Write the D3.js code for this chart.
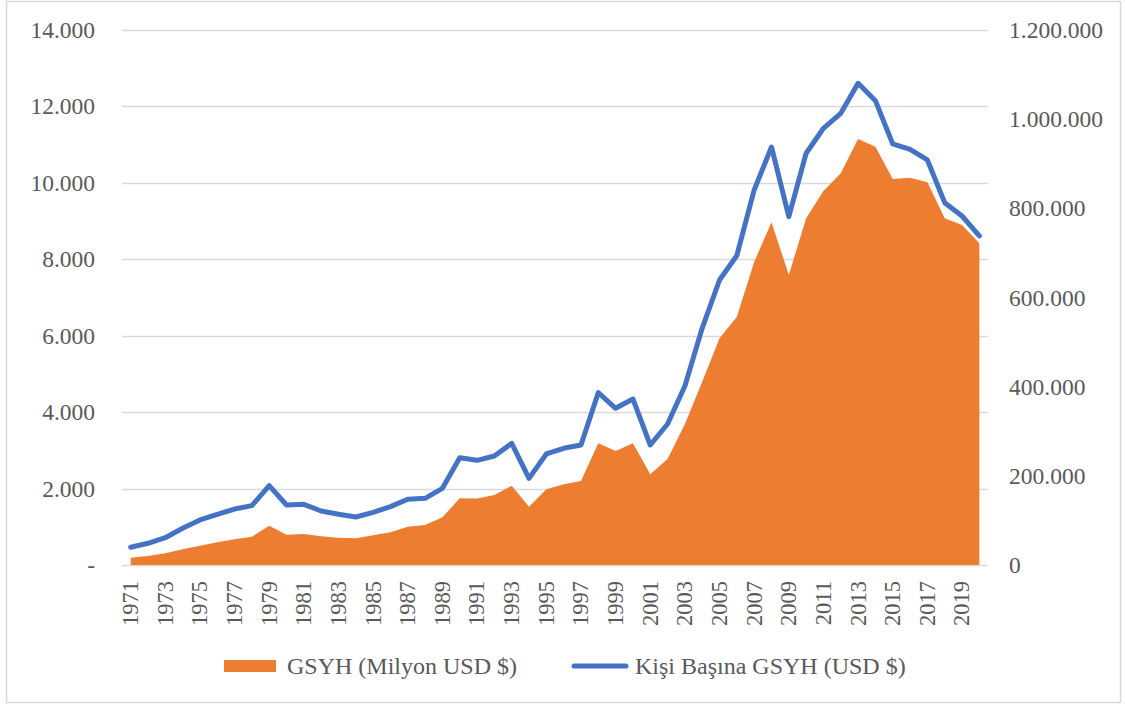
<!DOCTYPE html>
<html><head><meta charset="utf-8">
<script src="https://cdn.jsdelivr.net/npm/d3@7"></script>
<style>
html,body{margin:0;padding:0;background:#fff;}
svg{display:block;}
text{font-family:"Liberation Serif","Times New Roman",serif;fill:#595959;}
</style></head><body>
<svg id="chart" width="1125" height="706"></svg>
<script>
const years = d3.range(1971, 2021);
const yearLabels = years.filter((y,i)=>i%2===0);
// GSYH (Milyon USD $) - right axis
const gdp = [16400,20200,26200,35200,43300,50900,57600,63500,88200,68000,
  69500,64400,61200,59900,66600,73300,85900,89700,107000,149600,
  148900,157000,177900,130800,169800,181000,188400,273000,255700,273000,
  203400,237800,316300,411000,508500,557000,679700,768700,650500,777700,
  838900,878600,955500,938300,865800,868800,858400,777700,762600,721600];
// Kişi Başına GSYH (USD $) - left axis
const perCapita = [463,568,715,960,1178,1326,1465,1553,2076,1570,
  1588,1413,1326,1256,1378,1527,1719,1745,2006,2809,
  2739,2852,3184,2268,2905,3054,3140,4510,4100,4344,
  3140,3690,4684,6200,7458,8100,9814,10939,9115,10774,
  11428,11821,12606,12151,11018,10879,10599,9482,9133,8610];
const leftTicks = [0,2000,4000,6000,8000,10000,12000,14000];
const rightTicks = [0,200000,400000,600000,800000,1000000,1200000];
const seriesNames = ["GSYH (Milyon USD $)","Kişi Başına GSYH (USD $)"];
const colors = {gdp:"#ED7D31", pc:"#4472C4"};

const svg = d3.select("#chart");
const L=122, R=988, T=30, B=565;
const fmt = v => d3.format(",")(v).replace(/,/g,".");
const FS = "23.5px";

// outer border
svg.append("rect").attr("x",6.5).attr("y",1.5).attr("width",1114).attr("height",701)
  .attr("fill","none").attr("stroke","#D9D9D9").attr("stroke-width",1.5);

const x = d3.scaleBand().domain(years).range([L,R]);
const yL = d3.scaleLinear().domain([0,14000]).range([B,T]);
const yR = d3.scaleLinear().domain([0,1200000]).range([B,T]);

// gridlines
svg.append("g").selectAll("line").data(leftTicks).join("line")
  .attr("x1",L).attr("x2",R).attr("y1",d=>Math.round(yL(d))+0.5).attr("y2",d=>Math.round(yL(d))+0.5)
  .attr("stroke","#D9D9D9").attr("stroke-width",1.3);

// area
const cx = d => x(d)+x.bandwidth()/2;
const area = d3.area().x((d,i)=>cx(years[i])).y0(B).y1(d=>yR(d));
svg.append("path").datum(gdp).attr("d",area).attr("fill",colors.gdp);

// line
const line = d3.line().x((d,i)=>cx(years[i])).y(d=>yL(d));
svg.append("path").datum(perCapita).attr("d",line).attr("fill","none")
  .attr("stroke",colors.pc).attr("stroke-width",5).attr("stroke-linejoin","round").attr("stroke-linecap","round");

// left axis
const gl = svg.append("g").attr("transform",`translate(${L},0)`)
  .call(d3.axisLeft(yL).tickValues(leftTicks).tickFormat(d=>d===0?"-":fmt(d)).tickSize(0).tickPadding(27));
gl.select(".domain").remove();
gl.selectAll("text").style("font-size",FS).style("fill","#595959").style("font-family","Liberation Serif");

// right axis
const gr = svg.append("g").attr("transform",`translate(${R},0)`)
  .call(d3.axisRight(yR).tickValues(rightTicks).tickFormat(d=>d===0?"0":fmt(d)).tickSize(0).tickPadding(21));
gr.select(".domain").remove();
gr.selectAll("text").style("font-size",FS).style("fill","#595959").style("font-family","Liberation Serif");

// x axis
const gx = svg.append("g").attr("transform",`translate(0,${B})`)
  .call(d3.axisBottom(x).tickValues(yearLabels).tickSize(0).tickPadding(0));
gx.select(".domain").remove();
gx.selectAll("text").attr("transform","rotate(-90)").attr("text-anchor","end")
  .attr("x",-16).attr("y",0).attr("dy","0.33em")
  .style("font-size","22.5px").style("fill","#595959").style("font-family","Liberation Serif");

// legend
const lg = svg.append("g");
lg.append("rect").attr("x",224).attr("y",660).attr("width",52).attr("height",12).attr("fill",colors.gdp);
lg.append("text").attr("x",287).attr("y",674).text(seriesNames[0]).style("font-size","24px");
lg.append("line").attr("x1",574).attr("x2",626).attr("y1",666).attr("y2",666)
  .attr("stroke",colors.pc).attr("stroke-width",5).attr("stroke-linecap","round");
lg.append("text").attr("x",635).attr("y",674).text(seriesNames[1]).style("font-size","24px");
</script>
</body></html>
